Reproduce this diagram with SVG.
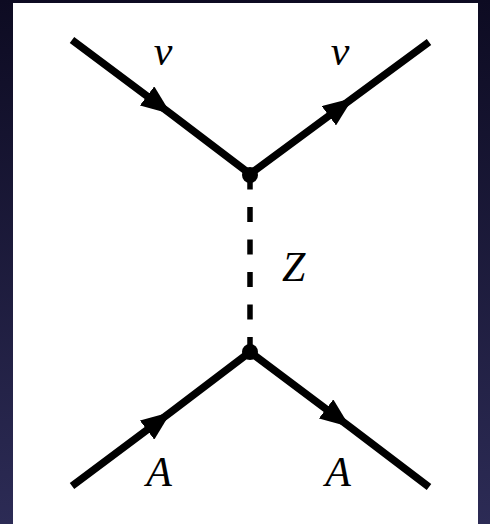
<svg xmlns="http://www.w3.org/2000/svg" width="490" height="524" viewBox="0 0 490 524">
<defs>
<linearGradient id="bg" x1="0" y1="0" x2="0" y2="1">
<stop offset="0" stop-color="#0d0b22"/>
<stop offset="1" stop-color="#2c2b55"/>
</linearGradient>
<marker id="arr" viewBox="0 0 30 24" refX="30" refY="12" markerWidth="30" markerHeight="24" markerUnits="userSpaceOnUse" orient="auto">
<path d="M0,0 L30,12 L0,24 Z" fill="#000"/>
</marker>
<style>
.f{fill:none;stroke:#000;stroke-width:7.5;stroke-linecap:butt;marker-mid:url(#arr)}
.b{fill:none;stroke:#000;stroke-width:5.5;stroke-dasharray:15 17.5}
.v{fill:#000}
.t{font-family:'Liberation Serif','Times New Roman','DejaVu Serif',serif;font-style:italic;font-weight:normal;font-size:42px;fill:#000}
</style>
</defs>
<rect x="0" y="0" width="490" height="524" fill="url(#bg)"/>
<rect x="13" y="3" width="465" height="521" fill="#fff"/>
<g id="connectors">
<path class="f" d="M72,40 L171,114 L250,174"/>
<path class="f" d="M250,174 L353,98 L429,42"/>
<path class="b" d="M250,174.5 L250,352"/>
<path class="f" d="M72,486 L171,412 L250,352"/>
<path class="f" d="M250,352 L350,427 L429,487"/>
</g>
<g id="vertex-top"><circle class="v" cx="250" cy="175" r="8"/></g>
<g id="vertex-bottom"><circle class="v" cx="250" cy="352" r="8"/></g>
<g id="label-nu-in"><text class="t" x="163" y="65" text-anchor="middle">ν</text></g>
<g id="label-nu-out"><text class="t" x="340" y="65" text-anchor="middle">ν</text></g>
<g id="label-Z"><text class="t" x="282" y="281">Z</text></g>
<g id="label-A-in"><text class="t" x="159" y="486" text-anchor="middle">A</text></g>
<g id="label-A-out"><text class="t" x="338" y="486" text-anchor="middle">A</text></g>
</svg>
